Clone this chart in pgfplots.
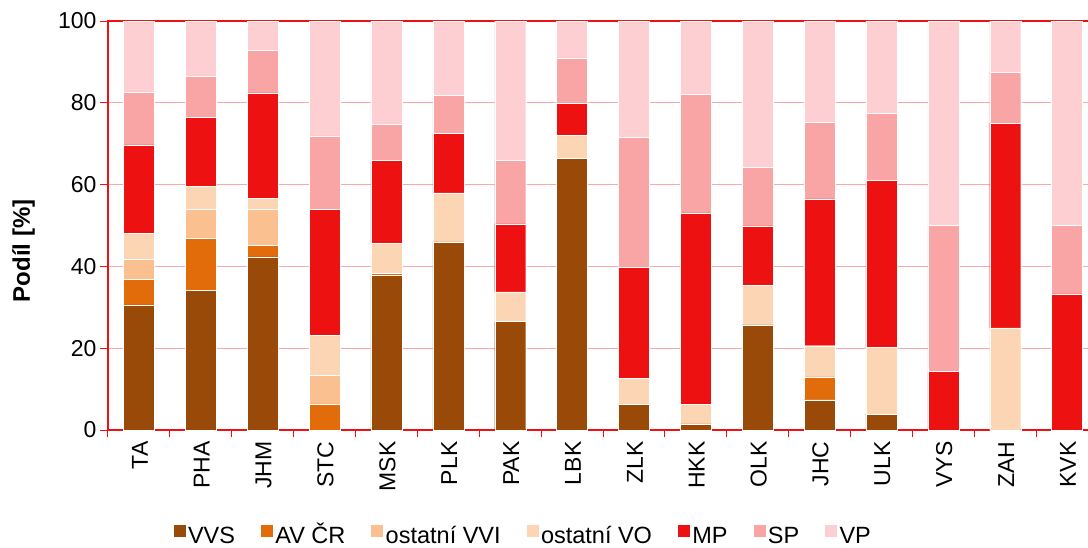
\documentclass[border=0pt]{standalone}
\usepackage{fontspec}
\setmainfont{Liberation Sans}
\usepackage{pgfplots}
\usepackage{pgfplotstable}
\pgfplotsset{compat=1.18}

\definecolor{cVVS}{HTML}{994A08}
\definecolor{cAV}{HTML}{E36C0A}
\definecolor{cVVI}{HTML}{FAC090}
\definecolor{cVO}{HTML}{FCD5B5}
\definecolor{cMP}{HTML}{EE1111}
\definecolor{cSP}{HTML}{F9A5A5}
\definecolor{cVP}{HTML}{FDCFD2}
\definecolor{axred}{HTML}{EE1111}
\definecolor{gridpink}{HTML}{F9A9A9}

% podíly v %, pořadí krajů jako v grafu
\pgfplotstableread{
x  kraj VVS  AV   VVI  VO   MP   SP   VP
0  TA   30.6 6.2  5.0  6.3  21.6 12.9 17.4
1  PHA  34.1 12.7 7.3  5.5  16.9 9.9  13.6
2  JHM  42.3 2.9  8.7  2.8  25.7 10.4 7.2
3  STC  0    6.4  7.0  9.8  30.8 17.9 28.1
4  MSK  37.8 0.5  0    7.3  20.4 8.7  25.3
5  PLK  46.0 0    0    12.0 14.5 9.4  18.1
6  PAK  26.5 0    0    7.3  16.6 15.5 34.1
7  LBK  66.5 0    0    5.6  7.8  11.1 9.0
8  ZLK  6.2  0    0    6.4  27.1 31.9 28.4
9  HKK  1.5  0    0    4.8  46.8 29.1 17.8
10 OLK  25.7 0    0    9.7  14.5 14.4 35.7
11 JHC  7.4  5.6  0    7.6  35.9 18.8 24.7
12 ULK  3.9  0    0    16.3 40.9 16.4 22.5
13 VYS  0    0    0    0    14.3 35.7 50.0
14 ZAH  0    0    0    25.0 50.0 12.5 12.5
15 KVK  0    0    0    0    33.3 16.7 50.0
}\datatable

\begin{document}
\begin{tikzpicture}
% obrázek je vpravo oříznutý jako v originále
\useasboundingbox (-108pt,-117pt) rectangle (980pt,430pt);
\begin{axis}[
  at={(0,0)}, anchor=south west,
  scale only axis,
  width=990pt, height=409pt,
  clip=false,
  ybar stacked,
  bar width=31pt,
  xmin=-0.5, xmax=15.5,
  ymin=0, ymax=100,
  xtick={0,...,15},
  xticklabels={TA,PHA,JHM,STC,MSK,PLK,PAK,LBK,ZLK,HKK,OLK,JHC,ULK,VYS,ZAH,KVK},
  minor xtick={-0.5,0.5,...,15.5},
  ytick={0,20,...,100},
  tick pos=left,
  tick align=outside,
  major tick length=8pt,
  minor tick length=7pt,
  major x tick style={draw=none},
  every tick/.style={draw=axred, line width=1pt},
  x tick label style={rotate=90, anchor=east, yshift=-1pt, font=\fontsize{23}{27}\selectfont},
  y tick label style={font=\fontsize{23}{27}\selectfont},
  /pgf/number format/assume math mode=true,
  ymajorgrids,
  grid style={gridpink, line width=1pt},
  axis line style={draw=axred, line width=1.2pt},
  ylabel={Podíl [\%]},
  ylabel style={font=\fontsize{24}{28}\selectfont\bfseries, at={(rel axis cs:-0.0852,0.4377)}, anchor=center, rotate=0},
  legend columns=7,
  legend style={at={(0.419,-0.262)}, anchor=center, draw=none,
    font=\fontsize{23.5}{27}\selectfont,
    nodes={text height=16pt, text depth=5pt, inner xsep=2pt},
    /tikz/every even column/.append style={column sep=23pt}},
  legend image code/.code={\fill[#1] (0pt,0.5pt) rectangle (13pt,13.5pt);},
  every axis plot/.append style={draw=white, line width=0.3pt},
]
\addplot[fill=cVVS] table[x=x,y=VVS]{\datatable};
\addplot[fill=cAV]  table[x=x,y=AV]{\datatable};
\addplot[fill=cVVI] table[x=x,y=VVI]{\datatable};
\addplot[fill=cVO]  table[x=x,y=VO]{\datatable};
\addplot[fill=cMP]  table[x=x,y=MP]{\datatable};
\addplot[fill=cSP]  table[x=x,y=SP]{\datatable};
\addplot[fill=cVP]  table[x=x,y=VP]{\datatable};
\legend{VVS, AV ČR, ostatní VVI, ostatní VO, MP, SP, VP}
% osy nad sloupci
\draw[axred, line width=1.2pt] (rel axis cs:0,1) -- (rel axis cs:0,0) -- (rel axis cs:1,0);
\end{axis}
\end{tikzpicture}
\end{document}
